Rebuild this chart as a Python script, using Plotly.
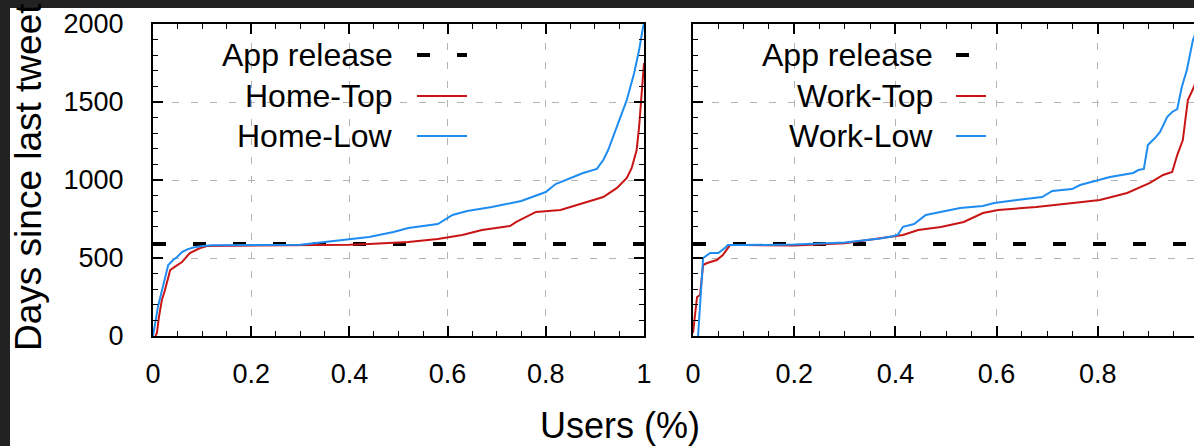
import plotly.graph_objects as go

# ---------------- data ----------------
release_days = 590

home_top_x = [0.005, 0.008, 0.012, 0.018, 0.024, 0.035, 0.045, 0.059, 0.075, 0.096, 0.11, 0.2, 0.3, 0.40, 0.44,
              0.52, 0.58, 0.63, 0.67, 0.727, 0.74, 0.78, 0.83, 0.876, 0.917, 0.945, 0.965, 0.975, 0.985, 0.99,
              0.996, 1.0]
home_top_y = [0, 20, 120, 230, 290, 423, 445, 474, 532, 564, 577, 578, 580, 585, 590,
              603, 622, 647, 679, 705, 731, 795, 808, 853, 891, 949, 1013, 1077, 1192, 1340,
              1560, 1750]

home_low_x = [0.0, 0.005, 0.01, 0.02, 0.024, 0.031, 0.041, 0.049, 0.059, 0.07, 0.082, 0.10, 0.12, 0.2, 0.3,
              0.35, 0.40, 0.44, 0.49, 0.52, 0.58, 0.59, 0.61, 0.64, 0.69, 0.75, 0.80, 0.82, 0.876, 0.904,
              0.917, 0.927, 0.945, 0.965, 0.98, 0.99, 0.998, 1.0]
home_low_y = [0, 100, 186, 314, 359, 455, 487, 506, 538, 555, 567, 577, 582, 582, 585,
              603, 622, 635, 667, 692, 718, 737, 776, 801, 827, 865, 923, 974, 1045, 1071,
              1128, 1192, 1340, 1513, 1686, 1833, 1980, 2000]

work_top_x = [0.0, 0.008, 0.014, 0.02, 0.028, 0.047, 0.059, 0.069, 0.073, 0.1, 0.2, 0.3, 0.385, 0.415, 0.445,
              0.49, 0.535, 0.573, 0.603, 0.678, 0.751, 0.804, 0.858, 0.903, 0.929, 0.947, 0.957, 0.968,
              0.978, 0.986, 0.99, 1.0]
work_top_y = [20, 250, 263, 455, 468, 487, 519, 571, 583, 583, 580, 595, 634, 647, 679,
              699, 731, 788, 808, 827, 853, 872, 917, 981, 1032, 1051, 1160, 1256,
              1513, 1564, 1596, 1700]

work_low_x = [0.01, 0.015, 0.02, 0.034, 0.05, 0.063, 0.069, 0.1, 0.2, 0.3, 0.37, 0.395, 0.405, 0.415, 0.437,
              0.46, 0.49, 0.528, 0.573, 0.595, 0.64, 0.69, 0.71, 0.749, 0.765, 0.798, 0.824, 0.87, 0.88,
              0.891, 0.899, 0.913, 0.923, 0.937, 0.947, 0.957, 0.966, 0.976, 0.988, 1.0]
work_low_y = [0, 250, 500, 532, 532, 564, 583, 583, 586, 600, 625, 640, 650, 700, 718,
              776, 795, 820, 833, 853, 872, 891, 930, 942, 968, 994, 1019, 1045, 1064,
              1071, 1224, 1269, 1308, 1404, 1436, 1455, 1596, 1705, 1897, 2000]

x_ticks = [0, 0.2, 0.4, 0.6, 0.8, 1]
x_tick_text = ["0", "0.2", "0.4", "0.6", "0.8", "1"]
y_ticks = [0, 500, 1000, 1500, 2000]
y_tick_text = ["0", "500", "1000", "1500", "2000"]

legend_left = ["App release", "Home-Top", "Home-Low"]
legend_right = ["App release", "Work-Top", "Work-Low"]
y_title = "Days since last tweet"
x_title = "Users (%)"

# ---------------- style ----------------
W, H = 1194, 446
ML, MR, MT, MB = 153, 0, 24, 110
PW, PH = W - ML - MR, H - MT - MB
RED = "#c81414"
BLUE = "#1e8cf0"
GRID = "#b4b4b4"
FONT = "Liberation Sans, Arial, sans-serif"
DARK = "#222222"


def px(xp):
    return (xp - ML) / PW


def py(yp):
    return (H - MB - yp) / PH


left_dom = [0, px(644)]
right_dom = [px(693), 1]
right_max = (1194 - 693) / (1199 - 693)

fig = go.Figure()

line_w = 2
fig.add_trace(go.Scatter(x=[0, 1], y=[release_days, release_days], mode="lines", xaxis="x", yaxis="y",
                         line=dict(color="black", width=4, dash="13px,27px"), showlegend=False))
fig.add_trace(go.Scatter(x=home_top_x, y=home_top_y, mode="lines", xaxis="x", yaxis="y",
                         line=dict(color=RED, width=line_w), showlegend=False))
fig.add_trace(go.Scatter(x=home_low_x, y=home_low_y, mode="lines", xaxis="x", yaxis="y",
                         line=dict(color=BLUE, width=line_w), showlegend=False))

fig.add_trace(go.Scatter(x=[0, 1], y=[release_days, release_days], mode="lines", xaxis="x2", yaxis="y2",
                         line=dict(color="black", width=4, dash="13px,27px"), showlegend=False))
fig.add_trace(go.Scatter(x=work_top_x, y=work_top_y, mode="lines", xaxis="x2", yaxis="y2",
                         line=dict(color=RED, width=line_w), showlegend=False))
fig.add_trace(go.Scatter(x=work_low_x, y=work_low_y, mode="lines", xaxis="x2", yaxis="y2",
                         line=dict(color=BLUE, width=line_w), showlegend=False))

xcommon = dict(tickvals=x_ticks, ticktext=x_tick_text, ticks="inside", ticklen=10, tickwidth=1.5,
               tickcolor="black", showline=True, linecolor="black", linewidth=2, mirror="allticks",
               showgrid=True, gridcolor=GRID, gridwidth=1, griddash="7px,12px", zeroline=False,
               automargin=False,
               minor=dict(dtick=0.05, ticks="inside", ticklen=5, tickwidth=1.2, tickcolor="black",
                          showgrid=False),
               tickfont=dict(family=FONT, size=27, color="black"), ticklabelstandoff=13)
ycommon = dict(range=[0, 2000], tickvals=y_ticks, ticktext=y_tick_text, ticks="inside", ticklen=10,
               tickwidth=1.5, tickcolor="black", showline=True, linecolor="black", linewidth=2,
               showgrid=True, gridcolor=GRID, gridwidth=1, griddash="7px,12px", zeroline=False,
               automargin=False,
               minor=dict(dtick=100, ticks="inside", ticklen=5, tickwidth=1.2, tickcolor="black",
                          showgrid=False),
               tickfont=dict(family=FONT, size=27, color="black"), ticklabelstandoff=22)

fig.update_layout(
    width=W, height=H, margin=dict(l=ML, r=MR, t=MT, b=MB, pad=0, autoexpand=False), autosize=False,
    paper_bgcolor="white", plot_bgcolor="white",
    xaxis=dict(domain=left_dom, range=[0, 1], anchor="y", **xcommon),
    yaxis=dict(domain=[0, 1], anchor="x", mirror="allticks", **ycommon),
    xaxis2=dict(domain=right_dom, range=[0, right_max], anchor="y2", **xcommon),
    yaxis2=dict(domain=[0, 1], anchor="x2", mirror=False, showticklabels=False, **ycommon),
    showlegend=False,
)

shapes = []
# opaque key boxes that hide the grid behind the legends
shapes.append(dict(type="rect", xref="paper", yref="paper", x0=px(180), x1=px(484), y0=py(152), y1=py(25),
                   fillcolor="white", line=dict(width=0), layer="between"))
shapes.append(dict(type="rect", xref="paper", yref="paper", x0=px(720), x1=px(1003), y0=py(168), y1=py(25),
                   fillcolor="white", line=dict(width=0), layer="between"))

annotations = []
rows = [55, 96, 136]
for labels, text_right, s0, s1 in [(legend_left, 395, 417, 467), (legend_right, 935, 956, 986)]:
    for i, lab in enumerate(labels):
        annotations.append(dict(text=lab, xref="paper", yref="paper", x=px(text_right), y=py(rows[i]),
                                xanchor="right", yanchor="middle", showarrow=False,
                                font=dict(family=FONT, size=32, color="black")))
    shapes.append(dict(type="line", xref="paper", yref="paper", x0=px(s0), x1=px(s1), y0=py(rows[0]),
                       y1=py(rows[0]), line=dict(color="black", width=4, dash="13px,27px")))
    shapes.append(dict(type="line", xref="paper", yref="paper", x0=px(s0), x1=px(s1), y0=py(rows[1]),
                       y1=py(rows[1]), line=dict(color=RED, width=2)))
    shapes.append(dict(type="line", xref="paper", yref="paper", x0=px(s0), x1=px(s1), y0=py(rows[2]),
                       y1=py(rows[2]), line=dict(color=BLUE, width=2)))

annotations.append(dict(text=y_title, xref="paper", yref="paper", x=px(28), y=py(177), textangle=-90,
                        xanchor="center", yanchor="middle", showarrow=False,
                        font=dict(family=FONT, size=37, color="black")))
annotations.append(dict(text=x_title, xref="paper", yref="paper", x=px(620), y=py(426),
                        xanchor="center", yanchor="middle", showarrow=False,
                        font=dict(family=FONT, size=36, color="black")))

# dark border strips of the screenshot
shapes.append(dict(type="rect", xref="paper", yref="paper", x0=px(0), x1=px(W), y0=py(8), y1=py(0),
                   fillcolor=DARK, line=dict(width=0), layer="above"))
shapes.append(dict(type="rect", xref="paper", yref="paper", x0=px(0), x1=px(10), y0=py(H), y1=py(0),
                   fillcolor=DARK, line=dict(width=0), layer="above"))

fig.update_layout(shapes=shapes, annotations=annotations)

page_fix = """
document.body.style.margin = '0';
document.body.style.padding = '0';
document.body.style.overflow = 'hidden';
document.documentElement.style.overflow = 'hidden';
"""
fig.write_html("out.html", config={"responsive": False}, post_script=page_fix)
